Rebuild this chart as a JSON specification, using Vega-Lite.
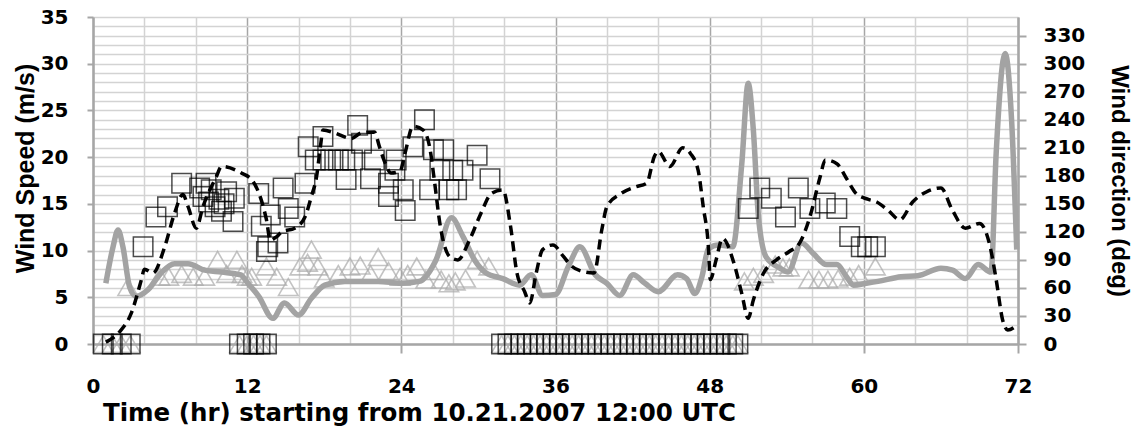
{
  "$schema": "https://vega.github.io/schema/vega-lite/v6.json",
  "width": 925,
  "height": 327,
  "autosize": "none",
  "padding": {"left": 93, "top": 17, "right": 128, "bottom": 85},
  "background": "white",
  "config": {
    "view": {"stroke": null},
    "axis": {"labelFont": "DejaVu Sans", "titleFont": "Liberation Sans", "labelFontWeight": "bold", "titleFontWeight": "bold", "labelColor": "black", "titleColor": "black", "labelFontSize": 20, "titleFontSize": 24, "domainColor": "#a6a6a6", "domainWidth": 2.5, "tickColor": "#a6a6a6", "tickWidth": 2}
  },
  "datasets": {
    "speedModel": [
      {"hr": 1.0, "speed": 0.2}, {"hr": 2.07, "speed": 1.3}, {"hr": 2.98, "speed": 3.3}, {"hr": 3.76, "speed": 6.85}, {"hr": 4.0, "speed": 8.0}, {"hr": 4.67, "speed": 7.6}, {"hr": 5.58, "speed": 10.4}, {"hr": 6.35, "speed": 14.0}, {"hr": 7.0, "speed": 16.0}, {"hr": 7.4, "speed": 14.7}, {"hr": 8.04, "speed": 12.4}, {"hr": 8.56, "speed": 14.7}, {"hr": 9.6, "speed": 17.9}, {"hr": 10.0, "speed": 19.0}, {"hr": 11.55, "speed": 18.3}, {"hr": 12.4, "speed": 17.5}, {"hr": 13.1, "speed": 15.4}, {"hr": 13.5, "speed": 13.3}, {"hr": 13.8, "speed": 11.1}, {"hr": 14.3, "speed": 11.5}, {"hr": 14.7, "speed": 12.0}, {"hr": 15.7, "speed": 12.4}, {"hr": 16.5, "speed": 13.6}, {"hr": 17.0, "speed": 15.8}, {"hr": 17.4, "speed": 17.9}, {"hr": 17.7, "speed": 21.1}, {"hr": 17.9, "speed": 22.9}, {"hr": 18.8, "speed": 22.6}, {"hr": 20.1, "speed": 22.0}, {"hr": 20.9, "speed": 22.6}, {"hr": 21.9, "speed": 22.7}, {"hr": 22.3, "speed": 21.1}, {"hr": 22.7, "speed": 19.5}, {"hr": 23.2, "speed": 18.3}, {"hr": 23.9, "speed": 18.5}, {"hr": 24.3, "speed": 20.5}, {"hr": 24.9, "speed": 23.3}, {"hr": 25.7, "speed": 22.9}, {"hr": 26.2, "speed": 21.1}, {"hr": 26.6, "speed": 17.2}, {"hr": 27.0, "speed": 12.9}, {"hr": 27.8, "speed": 9.3}, {"hr": 28.4, "speed": 9.0}, {"hr": 29.3, "speed": 11.1}, {"hr": 30.2, "speed": 14.0}, {"hr": 31.0, "speed": 16.1}, {"hr": 31.9, "speed": 16.5}, {"hr": 32.5, "speed": 12.6}, {"hr": 33.0, "speed": 7.6}, {"hr": 33.6, "speed": 5.6}, {"hr": 34.0, "speed": 4.4}, {"hr": 34.5, "speed": 7.6}, {"hr": 35.0, "speed": 10.1}, {"hr": 35.8, "speed": 10.6}, {"hr": 36.6, "speed": 9.4}, {"hr": 37.2, "speed": 8.4}, {"hr": 38.0, "speed": 7.8}, {"hr": 39.0, "speed": 7.6}, {"hr": 39.6, "speed": 12.2}, {"hr": 40.0, "speed": 14.7}, {"hr": 41.1, "speed": 16.1}, {"hr": 42.2, "speed": 16.8}, {"hr": 43.1, "speed": 17.2}, {"hr": 43.7, "speed": 20.1}, {"hr": 44.0, "speed": 20.6}, {"hr": 44.9, "speed": 19.0}, {"hr": 45.9, "speed": 21.0}, {"hr": 46.5, "speed": 20.4}, {"hr": 47.1, "speed": 18.6}, {"hr": 47.5, "speed": 14.7}, {"hr": 47.9, "speed": 10.4}, {"hr": 48.05, "speed": 6.9}, {"hr": 48.5, "speed": 9.0}, {"hr": 49.0, "speed": 11.3}, {"hr": 49.9, "speed": 8.6}, {"hr": 50.5, "speed": 5.4}, {"hr": 51.0, "speed": 2.75}, {"hr": 51.4, "speed": 4.7}, {"hr": 52.2, "speed": 7.6}, {"hr": 53.2, "speed": 9.0}, {"hr": 54.2, "speed": 9.9}, {"hr": 55.0, "speed": 10.8}, {"hr": 55.8, "speed": 13.6}, {"hr": 56.6, "speed": 17.9}, {"hr": 57.0, "speed": 19.7}, {"hr": 57.9, "speed": 19.3}, {"hr": 58.7, "speed": 17.6}, {"hr": 59.4, "speed": 16.1}, {"hr": 60.3, "speed": 15.5}, {"hr": 61.0, "speed": 15.2}, {"hr": 61.9, "speed": 14.3}, {"hr": 62.8, "speed": 13.3}, {"hr": 63.8, "speed": 15.2}, {"hr": 64.9, "speed": 16.3}, {"hr": 66.0, "speed": 16.7}, {"hr": 66.9, "speed": 14.3}, {"hr": 67.9, "speed": 12.4}, {"hr": 69.0, "speed": 12.9}, {"hr": 69.8, "speed": 10.6}, {"hr": 70.3, "speed": 6.9}, {"hr": 70.8, "speed": 2.6}, {"hr": 71.2, "speed": 1.5}, {"hr": 71.9, "speed": 2.0}
    ],
    "dirModel": [
      {"hr": 1.0, "dir": 65}, {"hr": 1.56, "dir": 104}, {"hr": 1.95, "dir": 122}, {"hr": 2.33, "dir": 104}, {"hr": 2.85, "dir": 61}, {"hr": 3.37, "dir": 51}, {"hr": 4.28, "dir": 58}, {"hr": 5.3, "dir": 76}, {"hr": 6.35, "dir": 86}, {"hr": 7.4, "dir": 86}, {"hr": 8.7, "dir": 79}, {"hr": 10.0, "dir": 77}, {"hr": 11.5, "dir": 74}, {"hr": 12.0, "dir": 66}, {"hr": 12.9, "dir": 51}, {"hr": 14.0, "dir": 27.5}, {"hr": 14.9, "dir": 44}, {"hr": 16.0, "dir": 31}, {"hr": 17.0, "dir": 49}, {"hr": 18.05, "dir": 63}, {"hr": 19.6, "dir": 67}, {"hr": 22.2, "dir": 67}, {"hr": 24.0, "dir": 65}, {"hr": 25.4, "dir": 67}, {"hr": 26.7, "dir": 90}, {"hr": 27.9, "dir": 135}, {"hr": 28.8, "dir": 115}, {"hr": 29.7, "dir": 90}, {"hr": 30.6, "dir": 76}, {"hr": 31.9, "dir": 70}, {"hr": 33.2, "dir": 63}, {"hr": 34.1, "dir": 74}, {"hr": 35.0, "dir": 52}, {"hr": 36.0, "dir": 53}, {"hr": 37.0, "dir": 83}, {"hr": 37.9, "dir": 104}, {"hr": 39.1, "dir": 74}, {"hr": 40.0, "dir": 65}, {"hr": 41.0, "dir": 52}, {"hr": 42.05, "dir": 74}, {"hr": 42.96, "dir": 65}, {"hr": 44.0, "dir": 56}, {"hr": 45.5, "dir": 74}, {"hr": 46.2, "dir": 70}, {"hr": 46.85, "dir": 54}, {"hr": 47.4, "dir": 72}, {"hr": 47.9, "dir": 102}, {"hr": 48.7, "dir": 106}, {"hr": 49.8, "dir": 104}, {"hr": 50.5, "dir": 193}, {"hr": 51.0, "dir": 279}, {"hr": 51.4, "dir": 229}, {"hr": 51.8, "dir": 136}, {"hr": 52.4, "dir": 93}, {"hr": 53.5, "dir": 81}, {"hr": 54.1, "dir": 77}, {"hr": 55.15, "dir": 108}, {"hr": 56.05, "dir": 97}, {"hr": 57.1, "dir": 85}, {"hr": 57.9, "dir": 85}, {"hr": 58.65, "dir": 72}, {"hr": 59.2, "dir": 63}, {"hr": 60.2, "dir": 65}, {"hr": 61.1, "dir": 67}, {"hr": 62.9, "dir": 72}, {"hr": 64.2, "dir": 73}, {"hr": 66.0, "dir": 81}, {"hr": 66.9, "dir": 79}, {"hr": 67.9, "dir": 70}, {"hr": 68.9, "dir": 85}, {"hr": 69.9, "dir": 77}, {"hr": 70.3, "dir": 204}, {"hr": 71.0, "dir": 311}, {"hr": 71.5, "dir": 240}, {"hr": 71.9, "dir": 101}
    ],
    "speedObs": [
      {"hr": 0.8, "speed": 0}, {"hr": 1.5, "speed": 0}, {"hr": 2.2, "speed": 0}, {"hr": 2.9, "speed": 0},
      {"hr": 11.4, "speed": 0}, {"hr": 12.0, "speed": 0}, {"hr": 12.5, "speed": 0}, {"hr": 13.0, "speed": 0}, {"hr": 13.5, "speed": 0},
      {"hr": 31.8, "speed": 0}, {"hr": 32.3, "speed": 0}, {"hr": 32.8, "speed": 0}, {"hr": 33.3, "speed": 0}, {"hr": 33.8, "speed": 0}, {"hr": 34.3, "speed": 0}, {"hr": 34.8, "speed": 0}, {"hr": 35.3, "speed": 0}, {"hr": 35.8, "speed": 0}, {"hr": 36.3, "speed": 0}, {"hr": 36.8, "speed": 0}, {"hr": 37.3, "speed": 0}, {"hr": 37.8, "speed": 0}, {"hr": 38.3, "speed": 0}, {"hr": 38.8, "speed": 0}, {"hr": 39.3, "speed": 0}, {"hr": 39.8, "speed": 0}, {"hr": 40.3, "speed": 0}, {"hr": 40.8, "speed": 0}, {"hr": 41.3, "speed": 0}, {"hr": 41.8, "speed": 0}, {"hr": 42.3, "speed": 0}, {"hr": 42.8, "speed": 0}, {"hr": 43.3, "speed": 0}, {"hr": 43.8, "speed": 0}, {"hr": 44.3, "speed": 0}, {"hr": 44.8, "speed": 0}, {"hr": 45.3, "speed": 0}, {"hr": 45.8, "speed": 0}, {"hr": 46.3, "speed": 0}, {"hr": 46.8, "speed": 0}, {"hr": 47.3, "speed": 0}, {"hr": 47.8, "speed": 0}, {"hr": 48.3, "speed": 0}, {"hr": 48.8, "speed": 0}, {"hr": 49.3, "speed": 0}, {"hr": 49.8, "speed": 0}, {"hr": 50.2, "speed": 0},
      {"hr": 3.9, "speed": 10.4}, {"hr": 4.9, "speed": 13.6}, {"hr": 5.8, "speed": 14.7}, {"hr": 6.9, "speed": 17.2}, {"hr": 8.3, "speed": 16.7}, {"hr": 8.8, "speed": 17.2}, {"hr": 8.56, "speed": 15.8}, {"hr": 9.2, "speed": 16.5}, {"hr": 9.5, "speed": 14.7}, {"hr": 10.0, "speed": 14.2}, {"hr": 10.4, "speed": 16.3}, {"hr": 11.0, "speed": 15.6}, {"hr": 10.9, "speed": 13.1}, {"hr": 9.0, "speed": 15.2}, {"hr": 9.8, "speed": 15.5}, {"hr": 10.2, "speed": 15.0},
      {"hr": 12.9, "speed": 16.1}, {"hr": 14.8, "speed": 16.7}, {"hr": 13.8, "speed": 13.8}, {"hr": 15.2, "speed": 14.5}, {"hr": 15.7, "speed": 13.6}, {"hr": 13.1, "speed": 12.6}, {"hr": 13.6, "speed": 10.4}, {"hr": 14.4, "speed": 10.8}, {"hr": 13.5, "speed": 9.9},
      {"hr": 16.5, "speed": 17.2}, {"hr": 16.75, "speed": 21.1}, {"hr": 17.9, "speed": 22.2}, {"hr": 17.3, "speed": 19.7}, {"hr": 17.9, "speed": 19.7}, {"hr": 18.5, "speed": 19.7}, {"hr": 19.1, "speed": 19.7}, {"hr": 19.6, "speed": 19.7}, {"hr": 20.2, "speed": 19.7}, {"hr": 19.7, "speed": 17.6}, {"hr": 20.6, "speed": 23.4}, {"hr": 20.9, "speed": 21.5}, {"hr": 21.9, "speed": 19.7}, {"hr": 21.6, "speed": 17.7}, {"hr": 23.0, "speed": 15.8}, {"hr": 23.6, "speed": 19.7}, {"hr": 24.3, "speed": 14.3}, {"hr": 23.5, "speed": 18.6}, {"hr": 23.0, "speed": 17.2},
      {"hr": 25.8, "speed": 24.0}, {"hr": 24.9, "speed": 21.1}, {"hr": 24.15, "speed": 16.5}, {"hr": 26.5, "speed": 20.8}, {"hr": 27.3, "speed": 20.8}, {"hr": 27.0, "speed": 18.6}, {"hr": 26.2, "speed": 16.5}, {"hr": 27.7, "speed": 16.5}, {"hr": 28.3, "speed": 16.5}, {"hr": 28.8, "speed": 18.6}, {"hr": 29.9, "speed": 20.2}, {"hr": 30.9, "speed": 17.7}, {"hr": 28.0, "speed": 18.6},
      {"hr": 51.0, "speed": 14.5}, {"hr": 51.9, "speed": 16.7}, {"hr": 52.8, "speed": 15.6}, {"hr": 53.9, "speed": 13.6}, {"hr": 54.9, "speed": 16.7}, {"hr": 55.8, "speed": 14.5}, {"hr": 57.0, "speed": 15.1}, {"hr": 57.9, "speed": 14.5}, {"hr": 58.9, "speed": 11.5}, {"hr": 59.8, "speed": 10.4}, {"hr": 60.3, "speed": 10.4}, {"hr": 60.9, "speed": 10.4}
    ],
    "dirObs": [
      {"hr": 0.8, "dir": 0}, {"hr": 1.5, "dir": 0}, {"hr": 2.2, "dir": 0}, {"hr": 2.9, "dir": 0},
      {"hr": 11.4, "dir": 0}, {"hr": 12.0, "dir": 0}, {"hr": 12.5, "dir": 0}, {"hr": 13.0, "dir": 0}, {"hr": 13.5, "dir": 0},
      {"hr": 31.8, "dir": 0}, {"hr": 32.3, "dir": 0}, {"hr": 32.8, "dir": 0}, {"hr": 33.3, "dir": 0}, {"hr": 33.8, "dir": 0}, {"hr": 34.3, "dir": 0}, {"hr": 34.8, "dir": 0}, {"hr": 35.3, "dir": 0}, {"hr": 35.8, "dir": 0}, {"hr": 36.3, "dir": 0}, {"hr": 36.8, "dir": 0}, {"hr": 37.3, "dir": 0}, {"hr": 37.8, "dir": 0}, {"hr": 38.3, "dir": 0}, {"hr": 38.8, "dir": 0}, {"hr": 39.3, "dir": 0}, {"hr": 39.8, "dir": 0}, {"hr": 40.3, "dir": 0}, {"hr": 40.8, "dir": 0}, {"hr": 41.3, "dir": 0}, {"hr": 41.8, "dir": 0}, {"hr": 42.3, "dir": 0}, {"hr": 42.8, "dir": 0}, {"hr": 43.3, "dir": 0}, {"hr": 43.8, "dir": 0}, {"hr": 44.3, "dir": 0}, {"hr": 44.8, "dir": 0}, {"hr": 45.3, "dir": 0}, {"hr": 45.8, "dir": 0}, {"hr": 46.3, "dir": 0}, {"hr": 46.8, "dir": 0}, {"hr": 47.3, "dir": 0}, {"hr": 47.8, "dir": 0}, {"hr": 48.3, "dir": 0}, {"hr": 48.8, "dir": 0}, {"hr": 49.3, "dir": 0}, {"hr": 49.8, "dir": 0}, {"hr": 50.2, "dir": 0},
      {"hr": 2.7, "dir": 61}, {"hr": 5.2, "dir": 72}, {"hr": 5.9, "dir": 72}, {"hr": 6.9, "dir": 75}, {"hr": 7.8, "dir": 72}, {"hr": 8.7, "dir": 72}, {"hr": 9.7, "dir": 90}, {"hr": 10.4, "dir": 75}, {"hr": 11.2, "dir": 90}, {"hr": 11.6, "dir": 75}, {"hr": 12.0, "dir": 72}, {"hr": 12.35, "dir": 72}, {"hr": 13.5, "dir": 83}, {"hr": 14.3, "dir": 72}, {"hr": 15.2, "dir": 61}, {"hr": 16.1, "dir": 83}, {"hr": 17.0, "dir": 101}, {"hr": 16.7, "dir": 87}, {"hr": 17.5, "dir": 83}, {"hr": 18.0, "dir": 70}, {"hr": 19.1, "dir": 75}, {"hr": 20.0, "dir": 83}, {"hr": 20.8, "dir": 84}, {"hr": 21.6, "dir": 75}, {"hr": 22.2, "dir": 93}, {"hr": 23.0, "dir": 78}, {"hr": 23.9, "dir": 72}, {"hr": 24.5, "dir": 75}, {"hr": 25.2, "dir": 83}, {"hr": 25.9, "dir": 69}, {"hr": 26.5, "dir": 78}, {"hr": 27.1, "dir": 69}, {"hr": 27.7, "dir": 65}, {"hr": 28.2, "dir": 67}, {"hr": 29.0, "dir": 70}, {"hr": 29.9, "dir": 90}, {"hr": 30.8, "dir": 83},
      {"hr": 50.7, "dir": 67}, {"hr": 51.4, "dir": 72}, {"hr": 52.2, "dir": 75}, {"hr": 53.1, "dir": 85}, {"hr": 53.7, "dir": 82}, {"hr": 54.2, "dir": 82}, {"hr": 55.7, "dir": 69}, {"hr": 56.5, "dir": 69}, {"hr": 57.2, "dir": 69}, {"hr": 58.0, "dir": 70}, {"hr": 58.9, "dir": 72}, {"hr": 59.6, "dir": 75}, {"hr": 60.9, "dir": 83}
    ]
  },
  "layer": [
    {
      "layer": [
        {
          "data": {"name": "dirObs"},
          "mark": {"type": "point", "shape": "triangle-up", "filled": false, "stroke": "#ababab", "strokeWidth": 1.6, "size": 380, "clip": false},
          "encoding": {
            "x": {"field": "hr", "type": "quantitative", "scale": {"domain": [0, 72], "nice": false},
              "axis": {"values": [0,2,4,6,8,10,12,14,16,18,20,22,24,26,28,30,32,34,36,38,40,42,44,46,48,50,52,54,56,58,60,62,64,66,68,70,72],
                "labelExpr": "datum.value % 12 === 0 ? datum.label : ''",
                "grid": true, "gridColor": {"condition": {"test": "datum.value % 12 === 0", "value": "#a6a6a6"}, "value": "#d3d3d3"}, "gridWidth": 1.5,
                "tickOpacity": {"condition": {"test": "datum.value % 12 === 0", "value": 1}, "value": 0},
                "tickSize": 9, "labelPadding": 23, "labelFlush": false,
                "title": "Time (hr) starting from 10.21.2007 12:00 UTC", "titleFont": "DejaVu Sans", "titleFontSize": 24.5,
                "titleX": 326, "titleY": 69, "titleBaseline": "middle", "titleAnchor": "middle"}},
            "y": {"field": "dir", "type": "quantitative", "scale": {"domain": [0, 350], "nice": false},
              "axis": {"orient": "right", "values": [0,30,60,90,120,150,180,210,240,270,300,330], "grid": false, "tickSize": 8, "labelPadding": 17, "title": "Wind direction (deg)", "titlePadding": 22}}
          }
        },
        {
          "data": {"name": "dirModel"},
          "mark": {"type": "line", "color": "#a3a3a3", "strokeWidth": 5.5, "interpolate": "monotone"},
          "encoding": {
            "x": {"field": "hr", "type": "quantitative"},
            "y": {"field": "dir", "type": "quantitative",
              "axis": {"orient": "right", "values": [0,30,60,90,120,150,180,210,240,270,300,330], "grid": false, "tickSize": 8, "labelPadding": 17, "title": "Wind direction (deg)", "titlePadding": 22}}
          }
        }
      ]
    },
    {
      "layer": [
        {
          "data": {"name": "speedObs"},
          "mark": {"type": "point", "shape": "square", "filled": false, "stroke": "black", "strokeWidth": 1.5, "size": 380, "clip": false},
          "encoding": {
            "x": {"field": "hr", "type": "quantitative"},
            "y": {"field": "speed", "type": "quantitative", "scale": {"domain": [0, 35], "nice": false},
              "axis": {"orient": "left", "values": [0,1,2,3,4,5,6,7,8,9,10,11,12,13,14,15,16,17,18,19,20,21,22,23,24,25,26,27,28,29,30,31,32,33,34,35],
                "labelExpr": "datum.value % 5 === 0 ? datum.label : ''",
                "grid": true, "gridColor": "#d3d3d3", "gridWidth": 1.5,
                "tickOpacity": {"condition": {"test": "datum.value % 5 === 0", "value": 1}, "value": 0},
                "tickSize": 6, "labelPadding": 19, "title": "Wind Speed (m/s)", "titleFontSize": 25, "titlePadding": 2, "titleY": 151}}
          }
        },
        {
          "data": {"name": "speedModel"},
          "mark": {"type": "line", "color": "black", "strokeWidth": 3.5, "strokeDash": [10, 6], "interpolate": "monotone"},
          "encoding": {
            "x": {"field": "hr", "type": "quantitative"},
            "y": {"field": "speed", "type": "quantitative",
              "axis": {"orient": "left", "values": [0,1,2,3,4,5,6,7,8,9,10,11,12,13,14,15,16,17,18,19,20,21,22,23,24,25,26,27,28,29,30,31,32,33,34,35],
                "labelExpr": "datum.value % 5 === 0 ? datum.label : ''",
                "grid": true, "gridColor": "#d3d3d3", "gridWidth": 1.5,
                "tickOpacity": {"condition": {"test": "datum.value % 5 === 0", "value": 1}, "value": 0},
                "tickSize": 6, "labelPadding": 19, "title": "Wind Speed (m/s)", "titleFontSize": 25, "titlePadding": 2, "titleY": 151}}
          }
        }
      ]
    }
  ],
  "resolve": {"scale": {"y": "independent"}}
}
